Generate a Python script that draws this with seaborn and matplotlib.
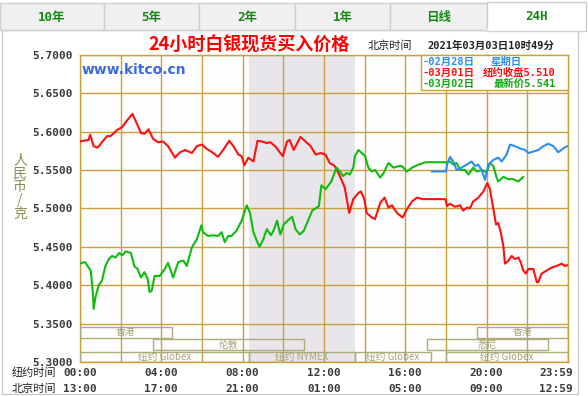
import matplotlib
matplotlib.use('Agg')
import matplotlib.pyplot as plt
import seaborn as sns
from matplotlib.patches import Rectangle

# 纽约时间(小时) 与 白银价格(人民币/克)
red_h = [0.00, 0.17, 0.42, 0.50, 0.67, 0.87, 1.08, 1.33, 1.50, 1.83, 2.08, 2.33, 2.58, 2.75, 3.00, 3.17,
         3.37, 3.58, 3.83, 4.08, 4.33, 4.67, 4.92, 5.17, 5.50, 5.75,
         6.00, 6.21, 6.55, 6.79, 7.04, 7.34, 7.54, 7.79, 7.95, 8.08, 8.28, 8.53, 8.73, 8.94, 9.19, 9.36,
         9.60, 9.85, 9.98, 10.18, 10.31, 10.51, 10.84, 11.09, 11.34, 11.59, 11.83,
         12.07, 12.28, 12.53, 12.78, 13.02, 13.24, 13.44, 13.69, 13.82, 13.98, 14.10, 14.35, 14.51, 14.76,
         14.98, 15.17, 15.34, 15.59, 15.87, 16.08, 16.33, 16.58, 16.83, 17.07, 17.49, 17.97, 18.05,
         18.20, 18.44, 18.69, 18.85, 19.02, 19.18, 19.34, 19.59, 19.84, 20.03, 20.16, 20.33, 20.46, 20.57,
         20.69, 20.82, 20.90, 21.07, 21.23, 21.39, 21.56, 21.67, 21.80, 21.93, 22.05, 22.30, 22.46, 22.54,
         22.70, 22.95, 23.20, 23.44, 23.69, 23.85, 23.98]
red_v = [5.587, 5.588, 5.589, 5.596, 5.581, 5.579, 5.586, 5.594, 5.594, 5.602, 5.606, 5.615, 5.623, 5.613, 5.598, 5.597,
         5.603, 5.591, 5.586, 5.587, 5.581, 5.566, 5.573, 5.576, 5.572, 5.581,
         5.583, 5.578, 5.572, 5.567, 5.576, 5.588, 5.581, 5.570, 5.568, 5.556, 5.566, 5.561, 5.588, 5.587, 5.585, 5.586,
         5.581, 5.572, 5.568, 5.587, 5.589, 5.576, 5.593, 5.587, 5.581, 5.570, 5.572,
         5.570, 5.559, 5.555, 5.542, 5.527, 5.494, 5.512, 5.520, 5.522, 5.512, 5.494, 5.488, 5.486, 5.507,
         5.514, 5.501, 5.504, 5.494, 5.488, 5.499, 5.509, 5.514, 5.512, 5.512, 5.512, 5.512, 5.503,
         5.506, 5.502, 5.504, 5.497, 5.501, 5.500, 5.509, 5.514, 5.522, 5.533, 5.525, 5.499, 5.479, 5.481,
         5.469, 5.451, 5.428, 5.432, 5.438, 5.434, 5.436, 5.430, 5.419, 5.415, 5.421, 5.421, 5.404, 5.404,
         5.415, 5.419, 5.423, 5.425, 5.428, 5.425, 5.426]

green_h = [0.00, 0.08, 0.25, 0.42, 0.53, 0.63, 0.67, 0.75, 0.92, 1.08, 1.25, 1.42, 1.58, 1.75, 1.92, 2.08,
           2.25, 2.50, 2.67, 2.83, 3.00, 3.17, 3.33, 3.42, 3.53, 3.67, 3.92, 4.17, 4.33, 4.58, 4.83, 5.08,
           5.25, 5.50, 5.75, 5.97,
           6.05, 6.30, 6.55, 6.79, 6.96, 7.12, 7.29, 7.45, 7.70, 7.95, 8.20, 8.36, 8.53, 8.69, 8.83, 9.02,
           9.19, 9.39, 9.52, 9.69, 9.85, 10.02, 10.21, 10.43, 10.60, 10.81, 11.01, 11.17, 11.42, 11.75, 11.87, 12.08,
           12.36, 12.61, 12.78, 12.94, 13.11, 13.27, 13.44, 13.52, 13.69, 13.85, 14.02, 14.18, 14.35, 14.51,
           14.76, 14.93, 15.17, 15.42, 15.67, 15.83, 16.08, 16.33, 16.66, 16.99, 17.49, 18.00,
           18.20, 18.36, 18.52, 18.69, 18.93, 19.10, 19.34, 19.51, 19.75, 20.00, 20.16, 20.33, 20.49, 20.57,
           20.82, 21.07, 21.31, 21.56, 21.80]
green_v = [5.428, 5.429, 5.430, 5.423, 5.419, 5.391, 5.369, 5.383, 5.400, 5.406, 5.425, 5.434, 5.438, 5.436, 5.442, 5.439,
           5.444, 5.442, 5.425, 5.421, 5.410, 5.417, 5.408, 5.391, 5.393, 5.412, 5.412, 5.421, 5.429, 5.410, 5.430, 5.432,
           5.425, 5.449, 5.460, 5.478,
           5.469, 5.464, 5.465, 5.464, 5.469, 5.456, 5.464, 5.464, 5.471, 5.484, 5.504, 5.494, 5.469, 5.458, 5.450, 5.460,
           5.473, 5.465, 5.471, 5.484, 5.466, 5.479, 5.484, 5.489, 5.473, 5.466, 5.471, 5.481, 5.497, 5.503, 5.530, 5.525,
           5.535, 5.553, 5.548, 5.542, 5.546, 5.544, 5.553, 5.568, 5.576, 5.572, 5.568, 5.553, 5.548, 5.550,
           5.540, 5.546, 5.559, 5.553, 5.555, 5.555, 5.548, 5.553, 5.557, 5.560, 5.560, 5.560,
           5.561, 5.557, 5.559, 5.550, 5.550, 5.544, 5.553, 5.548, 5.550, 5.547, 5.559, 5.555, 5.540, 5.535,
           5.541, 5.538, 5.538, 5.535, 5.541]

blue_h = [17.29, 18.00, 18.05, 18.20, 18.36, 18.52, 18.77, 19.02, 19.26, 19.43, 19.59, 19.75, 19.92, 20.08,
          20.33, 20.57, 20.74, 20.98, 21.15, 21.39, 21.64, 21.89, 22.05, 22.30, 22.54, 22.79, 23.03, 23.28,
          23.52, 23.77, 23.97]
blue_v = [5.548, 5.548, 5.557, 5.567, 5.561, 5.550, 5.553, 5.557, 5.561, 5.555, 5.557, 5.550, 5.537, 5.557,
          5.563, 5.566, 5.561, 5.570, 5.583, 5.581, 5.578, 5.576, 5.572, 5.574, 5.576, 5.581, 5.584, 5.581,
          5.573, 5.578, 5.581]

y_ticks = [5.30, 5.35, 5.40, 5.45, 5.50, 5.55, 5.60, 5.65, 5.70]
label_hours = [0, 4, 8, 12, 16, 20, 24]
ny_labels = ['00:00', '04:00', '08:00', '12:00', '16:00', '20:00', '23:59']
bj_labels = ['13:00', '17:00', '21:00', '01:00', '05:00', '09:00', '12:59']
tabs = ['10年', '5年', '2年', '1年', '日线', '24H']

# 交易时段: 名称, 开始, 结束, 行(0=上)
sessions = [('香港', 0.0, 4.5, 0), ('香港', 19.5, 24.0, 0),
            ('伦敦', 3.6, 11.0, 1), ('悉尼', 17.05, 23.0, 1),
            ('纽约 Globex', 0.0, 8.33, 2), ('纽约 NYMEX', 8.33, 13.5, 2),
            ('纽约 Globex', 13.5, 17.25, 2), ('纽约 Globex', 18.0, 24.0, 2)]
nymex_start, nymex_end = 8.33, 13.5

sns.set_style('white')
cjk = ['Noto Sans CJK SC', 'DejaVu Sans']
mono = ['DejaVu Sans Mono', 'Noto Sans CJK SC']
plt.rcParams['font.family'] = cjk

gold = '#c8a03c'
olive = '#b0ac78'
dark = '#3a3a3a'

fig = plt.figure(figsize=(5.88, 3.96), dpi=100)
fig.patch.set_facecolor('white')

# 背景层 (像素坐标)
bg = fig.add_axes([0, 0, 1, 1], zorder=0)
bg.set_xlim(0, 588)
bg.set_ylim(396, 0)
bg.axis('off')
bg.add_patch(Rectangle((2, 30), 576, 364, facecolor='white', edgecolor='#cccccc', lw=1))
edges = [0, 104, 199, 295, 390, 487, 586]
for i, t in enumerate(tabs):
    x0, x1 = edges[i], edges[i + 1]
    if t == '24H':
        bg.add_patch(Rectangle((x0, 2), x1 - x0, 29, facecolor='white', edgecolor='#cccccc', lw=1))
        bg.plot([x0 + 1, x1 - 1], [30, 30], color='white', lw=1.5)
    else:
        bg.add_patch(Rectangle((x0, 3), x1 - x0, 27, facecolor='#f0f0f0', edgecolor='#cfcfcf', lw=1))
    bg.text((x0 + x1) / 2, 17, t, ha='center', va='center', fontsize=9, fontweight='bold',
            color='#128a12', family=mono)

bg.text(249, 45, '24小时白银现货买入价格', ha='center', va='center', fontsize=13, color='#ff0000',
        fontweight='bold')
bg.text(390, 46, '北京时间', ha='center', va='center', fontsize=8, color='#222222')
bg.text(427, 46, '2021年03月03日10时49分', ha='left', va='center', fontsize=7.5, color='#222222',
        family=mono, fontweight='bold')
bg.text(20, 187, '人\n民\n币\n/\n克', ha='center', va='center', fontsize=10, color='#8c8a50',
        linespacing=0.95)
bg.text(34, 373, '纽约时间', ha='center', va='center', fontsize=8, color='#222222')
bg.text(34, 389, '北京时间', ha='center', va='center', fontsize=8, color='#222222')

# 主图
ax = fig.add_axes([80 / 588, 34 / 396, 488 / 588, 307.3 / 396], zorder=1)
ax.set_facecolor('#fefefe')
ax.set_xlim(0, 24)
ax.set_ylim(5.30, 5.70)
ax.axvspan(nymex_start, nymex_end, color='#e8e6ea', lw=0, zorder=0)

sns.lineplot(x=red_h, y=red_v, color='#ff1010', lw=1.5, ax=ax, estimator=None, zorder=4)
sns.lineplot(x=green_h, y=green_v, color='#10bb10', lw=1.5, ax=ax, estimator=None, zorder=5)
sns.lineplot(x=blue_h, y=blue_v, color='#2a8ff0', lw=1.5, ax=ax, estimator=None, zorder=6)

ax.set_xticks(range(0, 25, 2))
ax.set_xticklabels([])
ax.set_yticks(y_ticks, labels=[f'{t:.4f}' for t in y_ticks])
ax.grid(True, color=gold, lw=1)
ax.set_axisbelow(True)
for s in ax.spines.values():
    s.set_color(gold)
    s.set_linewidth(1)
ax.tick_params(axis='x', length=0)
ax.tick_params(axis='y', length=3, color=gold, pad=2, labelsize=8, labelcolor=dark)
for lbl in ax.get_yticklabels():
    lbl.set_family(mono)
    lbl.set_fontweight('bold')

# 时间刻度
xt = ax.get_xaxis_transform()
for h, a, b in zip(label_hours, ny_labels, bj_labels):
    ha = 'right' if h == 24 else 'center'
    hx = h + 0.25 if h == 24 else h
    ax.text(hx, -0.035, a, transform=xt, ha=ha, va='center', fontsize=8, fontweight='bold',
            color=dark, family=mono, clip_on=False)
    ax.text(hx, -0.088, b, transform=xt, ha=ha, va='center', fontsize=8, fontweight='bold',
            color=dark, family=mono, clip_on=False)

# 交易时段框
rows = [(5.3313, 5.3456), (5.3156, 5.3300), (5.3000, 5.3130)]
for name, s0, s1, r in sessions:
    y0, y1 = rows[r]
    ax.add_patch(Rectangle((s0, y0), s1 - s0, y1 - y0, fill=False, edgecolor=olive, lw=1, zorder=3))
    ax.text((s0 + s1) / 2, (y0 + y1) / 2, name, ha='center', va='center', fontsize=7,
            color='#a8a276', zorder=3)

# 图例框
ax.add_patch(Rectangle((0.699, 0.885), 0.301, 0.115, transform=ax.transAxes, facecolor='white',
                       edgecolor=gold, lw=1, zorder=7, clip_on=False))
leg_rows = [('-02月28日', '星期日', '#2a8ff0'),
            ('-03月01日', '纽约收盘5.510', '#ff1010'),
            ('-03月02日', '最新价5.541', '#10aa10')]
for i, (d, info, c) in enumerate(leg_rows):
    yy = 0.978 - i * 0.037
    ax.text(0.702, yy, d, transform=ax.transAxes, ha='left', va='center', fontsize=7.5,
            color=c, family=mono, fontweight='bold', zorder=8)
    if i == 0:
        ax.text(0.841, yy, info, transform=ax.transAxes, ha='left', va='center', fontsize=7.5,
                color=c, family=mono, fontweight='bold', zorder=8)
    else:
        ax.text(0.975, yy, info, transform=ax.transAxes, ha='right', va='center', fontsize=7.5,
                color=c, family=mono, fontweight='bold', zorder=8)

ax.text(0.004, 0.950, 'www.kitco.cn', transform=ax.transAxes, ha='left', va='center', fontsize=10,
        fontweight='bold', color='#3a6ae0', family='DejaVu Sans', zorder=8)

fig.savefig('out.png', dpi=100)
